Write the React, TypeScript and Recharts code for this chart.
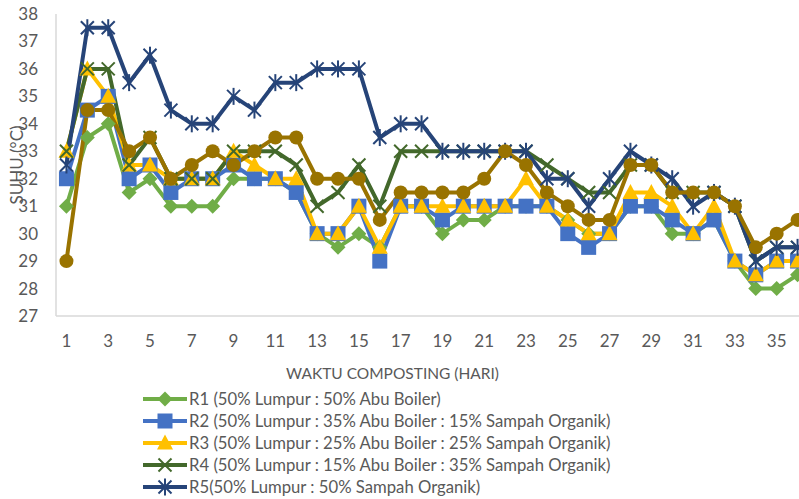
import { LineChart, Line, XAxis, YAxis } from 'recharts'

const DAYS = [
  1, 2, 3, 4, 5, 6, 7, 8, 9, 10, 11, 12, 13, 14, 15, 16, 17, 18,
  19, 20, 21, 22, 23, 24, 25, 26, 27, 28, 29, 30, 31, 32, 33, 34, 35, 36,
]

const R1 = [31, 33.5, 34, 31.5, 32, 31, 31, 31, 32, 32, 32, 31.5, 30, 29.5, 30, 29.5, 31, 31, 30, 30.5, 30.5, 31, 31, 31, 30.5, 30, 30, 31, 31, 30, 30, 30.5, 29, 28, 28, 28.5]
const R2 = [32, 34.5, 35, 32, 32.5, 31.5, 32, 32, 32.5, 32, 32, 31.5, 30, 30, 31, 29, 31, 31, 30.5, 31, 31, 31, 31, 31, 30, 29.5, 30, 31, 31, 30.5, 30, 30.5, 29, 28.5, 29, 29]
const R3 = [33, 36, 35, 32.5, 32.5, 32, 32, 32, 33, 32.5, 32, 32, 30, 30, 31, 29.5, 31, 31, 31, 31, 31, 31, 32, 31, 30.5, 30, 30, 31.5, 31.5, 31, 30, 31, 29, 28.5, 29, 29]
const R4 = [33, 36, 36, 32.5, 33.5, 32, 32, 32, 33, 33, 33, 32.5, 31, 31.5, 32.5, 31, 33, 33, 33, 33, 33, 33, 33, 32.5, 32, 31.5, 31.5, 32.5, 32.5, 31.5, 31.5, 31.5, 31, 29, 29.5, 29.5]
const R5 = [32.5, 37.5, 37.5, 35.5, 36.5, 34.5, 34, 34, 35, 34.5, 35.5, 35.5, 36, 36, 36, 33.5, 34, 34, 33, 33, 33, 33, 33, 32, 32, 31, 32, 33, 32.5, 32, 31, 31.5, 31, 29, 29.5, 29.5]
// sixth series has no entry in the legend of the source picture
const R6 = [29, 34.5, 34.5, 33, 33.5, 32, 32.5, 33, 32.5, 33, 33.5, 33.5, 32, 32, 32, 30.5, 31.5, 31.5, 31.5, 31.5, 32, 33, 32.5, 31.5, 31, 30.5, 30.5, 32.5, 32.5, 31.5, 31.5, 31.5, 31, 29.5, 30, 30.5]

const Y_TICKS = [27, 28, 29, 30, 31, 32, 33, 34, 35, 36, 37, 38]

type MarkerType = 'diamond' | 'square' | 'triangle' | 'x' | 'star' | 'circle'

const SERIES: { key: string; name: string; color: string; marker: MarkerType; values: number[]; legend: boolean }[] = [
  { key: 'r1', name: 'R1 (50% Lumpur : 50% Abu Boiler)', color: '#70AD47', marker: 'diamond', values: R1, legend: true },
  { key: 'r2', name: 'R2 (50% Lumpur : 35% Abu Boiler : 15% Sampah Organik)', color: '#4472C4', marker: 'square', values: R2, legend: true },
  { key: 'r3', name: 'R3 (50% Lumpur : 25% Abu Boiler : 25% Sampah Organik)', color: '#FFC000', marker: 'triangle', values: R3, legend: true },
  { key: 'r4', name: 'R4 (50% Lumpur : 15% Abu Boiler : 35% Sampah Organik)', color: '#43682B', marker: 'x', values: R4, legend: true },
  { key: 'r5', name: 'R5(50% Lumpur : 50% Sampah Organik)', color: '#264478', marker: 'star', values: R5, legend: true },
  { key: 'r6', name: 'R6', color: '#997300', marker: 'circle', values: R6, legend: false },
]

const data = DAYS.map((d, i) => {
  const row: Record<string, number> = { day: d }
  SERIES.forEach((s) => { row[s.key] = s.values[i] })
  return row
})

const FONT = 'Lato, "Open Sans", sans-serif'
const GRAY = '#595959'

function Marker({ cx, cy, type, color }: { cx: number; cy: number; type: MarkerType; color: string }) {
  if (cx == null || cy == null) return null
  switch (type) {
    case 'diamond':
      return <polygon points={`${cx},${cy - 7.5} ${cx + 7.5},${cy} ${cx},${cy + 7.5} ${cx - 7.5},${cy}`} fill={color} />
    case 'square':
      return <rect x={cx - 7.5} y={cy - 7.5} width={15} height={15} fill={color} />
    case 'triangle':
      return <polygon points={`${cx},${cy - 8.5} ${cx + 8},${cy + 6.5} ${cx - 8},${cy + 6.5}`} fill={color} />
    case 'x':
      return (
        <g stroke={color} strokeWidth={2}>
          <line x1={cx - 6.5} y1={cy - 6.5} x2={cx + 6.5} y2={cy + 6.5} />
          <line x1={cx - 6.5} y1={cy + 6.5} x2={cx + 6.5} y2={cy - 6.5} />
        </g>
      )
    case 'star':
      return (
        <g stroke={color} strokeWidth={2}>
          <line x1={cx - 6.5} y1={cy - 6.5} x2={cx + 6.5} y2={cy + 6.5} />
          <line x1={cx - 6.5} y1={cy + 6.5} x2={cx + 6.5} y2={cy - 6.5} />
          <line x1={cx} y1={cy - 8.5} x2={cx} y2={cy + 8.5} />
        </g>
      )
    default:
      return <circle cx={cx} cy={cy} r={7} fill={color} />
  }
}

function LegendBox() {
  return (
    <div style={{ position: 'absolute', left: 0, top: 388, fontFamily: FONT, fontSize: 16.7, color: GRAY }}>
      {SERIES.filter((s) => s.legend).map((s) => (
        <div key={s.key} style={{ display: 'flex', alignItems: 'center', height: 22, whiteSpace: 'nowrap' }}>
          <svg width={46} height={22} style={{ marginLeft: 143 }}>
            <line x1={0} y1={11} x2={44} y2={11} stroke={s.color} strokeWidth={4} />
            <Marker cx={22} cy={11} type={s.marker} color={s.color} />
          </svg>
          <span>{s.name}</span>
        </div>
      ))}
    </div>
  )
}

export default function App() {
  return (
    <div style={{ position: 'fixed', left: 0, top: 0, width: 799, height: 499, overflow: 'hidden', background: '#fff' }}>
      <LineChart width={830} height={499} data={data} margin={{ top: 14, right: 22, left: 0, bottom: 153 }}>
        <XAxis
          dataKey="day"
          interval={1}
          padding={{ left: 10.45, right: 10.45 }}
          tickLine={false}
          axisLine={{ stroke: '#d9d9d9', strokeWidth: 1.5 }}
          tick={{ fill: GRAY, fontSize: 17, fontFamily: FONT }}
          tickMargin={13}
          height={30}
        />
        <YAxis
          domain={[27, 38]}
          ticks={Y_TICKS}
          interval={0}
          width={56}
          tickLine={false}
          axisLine={{ stroke: '#d9d9d9', strokeWidth: 1.5 }}
          tick={{ fill: GRAY, fontSize: 17, fontFamily: FONT }}
          tickMargin={12}
          label={({ viewBox }: any) => (
            <text
              x={viewBox.x + 19}
              y={viewBox.y + viewBox.height / 2}
              transform={`rotate(-90 ${viewBox.x + 19} ${viewBox.y + viewBox.height / 2})`}
              textAnchor="middle"
              dominantBaseline="middle"
              fill={GRAY}
              fontSize={17}
              fontFamily={FONT}
            >
              SUHU (°C)
            </text>
          )}
        />
        {SERIES.map((s) => (
          <Line
            key={s.key}
            dataKey={s.key}
            name={s.name}
            type="linear"
            stroke={s.color}
            strokeWidth={4}
            isAnimationActive={false}
            dot={(p: any) => <Marker key={`${s.key}-${p.index}`} cx={p.cx} cy={p.cy} type={s.marker} color={s.color} />}
            activeDot={false}
          />
        ))}
      </LineChart>
      <div
        style={{
          position: 'absolute', left: 286, top: 364, fontFamily: FONT, fontSize: 15.5, color: GRAY, whiteSpace: 'nowrap',
        }}
      >
        WAKTU COMPOSTING (HARI)
      </div>
      <LegendBox />
    </div>
  )
}
